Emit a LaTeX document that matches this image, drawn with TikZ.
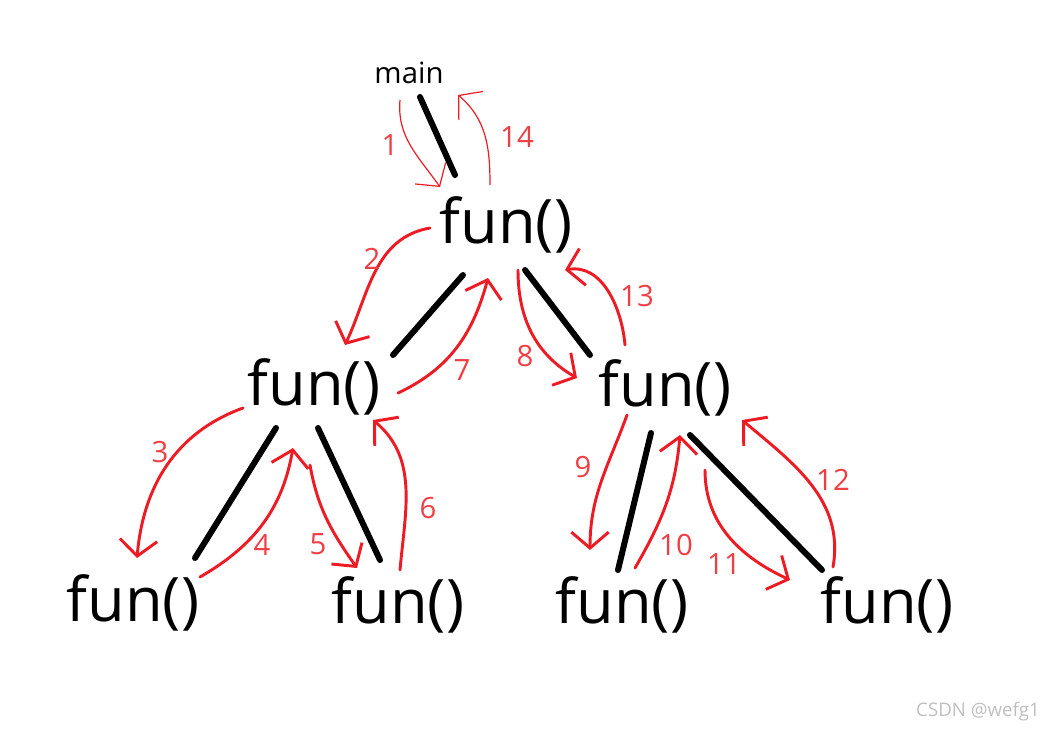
\documentclass[tikz,border=0pt]{standalone}
\usepackage{fontspec}
\setmainfont{Open Sans}
\usepackage{xcolor}
\usetikzlibrary{arrows.meta}

\definecolor{pen}{RGB}{237,28,36}

\begin{document}
\begin{tikzpicture}[
    x=0.75pt, y=0.75pt,
    fn/.style={inner sep=0pt, font=\fontsize{46}{50}\selectfont},
    tline/.style={line width=4.5pt, line cap=round},
    call/.style={pen, line width=2.2pt, line cap=round, -{Straight Barb[length=12pt, width=28pt, line width=2.2pt]}},
    thin call/.style={pen, line width=0.9pt, -{Straight Barb[length=12pt, width=28pt, line width=0.9pt]}},
    lbl/.style={text=pen!85, font=\fontsize{22}{24}\selectfont}
]
\useasboundingbox (0,0) rectangle (1051,-729);

% the call tree
\node[inner sep=0pt, font=\fontsize{22}{24}\selectfont] (main) at (409,-73) {main};
\node[fn] (f0) at (506,-225) {fun()};
\node[fn] (m1) at (314,-387) {fun()};
\node[fn] (m2) at (665,-388) {fun()};
\node[fn] (b1) at (133,-603) {fun()};
\node[fn] (b2) at (398,-605) {fun()};
\node[fn] (b3) at (622,-605) {fun()};
\node[fn] (b4) at (887,-605) {fun()};

\draw[tline] ([shift={(11,-24)}]main.center) -- ([shift={(-51,50)}]f0.center);
\draw[tline] ([shift={(-43,-50)}]f0.center) -- ([shift={(79,32)}]m1.center);
\draw[tline] ([shift={(19,-45)}]f0.center) -- ([shift={(-75,33)}]m2.center);
\draw[tline] ([shift={(-38,-41)}]m1.center) -- ([shift={(62,45)}]b1.center);
\draw[tline] ([shift={(4,-41)}]m1.center) -- ([shift={(-18,45)}]b2.center);
\draw[tline] ([shift={(-14,-45)}]m2.center) -- ([shift={(-4,35)}]b3.center);
\draw[tline] ([shift={(25,-47)}]m2.center) -- ([shift={(-65,35)}]b4.center);

% order of the calls and returns
\draw[thin call] ([shift={(-9,-27)}]main.center) to[out=265, in=125] ([shift={(-66,38)}]f0.center);
\draw[thin call] ([shift={(-16,40)}]f0.center) to[out=90, in=320] ([shift={(49,-22)}]main.center);
\draw[call] ([shift={(-76,-3)}]f0.center) to[out=190, in=65] ([shift={(31,42)}]m1.center);
\draw[call] ([shift={(-71,-21)}]m1.center) to[out=200, in=85] ([shift={(4,45)}]b1.center);
\draw[call] ([shift={(67,26)}]b1.center) to[out=30, in=260] ([shift={(-21,-61)}]m1.center);
\draw[call] ([shift={(-4,-78)}]m1.center) to[out=280, in=125] ([shift={(-41,37)}]b2.center);
\draw[call] ([shift={(2,35)}]b2.center) to[out=85, in=320] ([shift={(59,-33)}]m1.center);
\draw[call] ([shift={(84,-6)}]m1.center) to[out=25, in=255] ([shift={(-18,-53)}]f0.center);
\draw[call] ([shift={(12,-45)}]f0.center) to[out=270, in=150] ([shift={(-88,10)}]m2.center);
\draw[call] ([shift={(-38,-27)}]m2.center) to[out=250, in=90] ([shift={(-32,55)}]b3.center);
\draw[call] ([shift={(13,37)}]b3.center) to[out=60, in=265] ([shift={(15,-47)}]m2.center);
\draw[call] ([shift={(40,-82)}]m2.center) to[out=270, in=155] ([shift={(-97,25)}]b4.center);
\draw[call] ([shift={(-54,38)}]b4.center) to[out=80, in=320] ([shift={(77,-32)}]m2.center);
\draw[call] ([shift={(-40,43)}]m2.center) to[out=95, in=10] ([shift={(59,-45)}]f0.center);

\node[lbl] (n1) at (390,-145) {1};
\node[lbl] (n14) at (517,-137) {14};
\node[lbl] (n2) at (372,-259) {2};
\node[lbl] (n3) at (160,-452) {3};
\node[lbl] (n4) at (262,-545) {4};
\node[lbl] (n5) at (318,-544) {5};
\node[lbl] (n6) at (428,-508) {6};
\node[lbl] (n7) at (462,-370) {7};
\node[lbl] (n8) at (525,-356) {8};
\node[lbl] (n9) at (583,-467) {9};
\node[lbl] (n10) at (676,-545) {10};
\node[lbl] (n11) at (724,-564) {11};
\node[lbl] (n12) at (833,-480) {12};
\node[lbl] (n13) at (637,-296) {13};

\node[text=black!25, font=\fontsize{14}{16}\selectfont] (mark) at (978,-712) {CSDN @wefg1};
\end{tikzpicture}
\end{document}
